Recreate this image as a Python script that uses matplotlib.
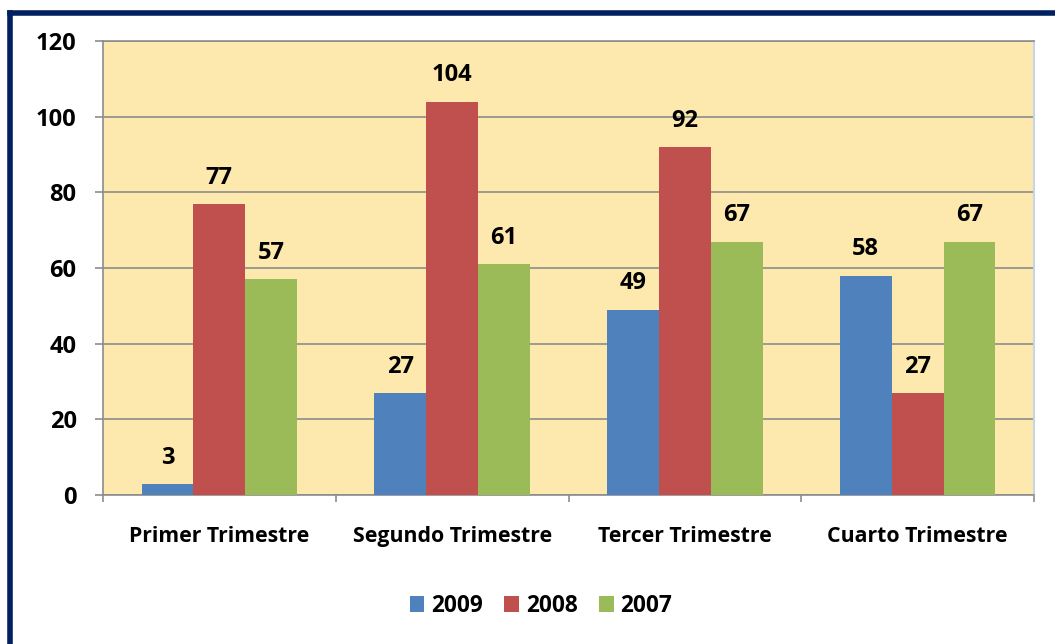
import numpy as np
import matplotlib.pyplot as plt
from matplotlib.lines import Line2D

plt.rcParams['font.family'] = ['Open Sans', 'DejaVu Sans']
plt.rcParams['font.weight'] = 'bold'

categories = ['Primer Trimestre', 'Segundo Trimestre', 'Tercer Trimestre', 'Cuarto Trimestre']
series_names = ['2009', '2008', '2007']
values_2009 = [3, 27, 49, 58]
values_2008 = [77, 104, 92, 27]
values_2007 = [57, 61, 67, 67]
colors = ['#4F81BD', '#C0504D', '#9BBB59']

NUM_FS = 17
CAT_FS = 15.3
LEG_FS = 16.3


def main():
    fig = plt.figure(figsize=(10.55, 6.44), dpi=100)
    ax = fig.add_axes([103 / 1055, 1 - 495 / 644, 931 / 1055, 454 / 644])
    ax.set_facecolor('#FDE9AE')

    x = np.arange(len(categories))
    w = 0.223
    series = [values_2009, values_2008, values_2007]
    for i, vals in enumerate(series):
        pos = x + (i - 1) * w
        bars = ax.bar(pos, vals, w, color=colors[i], label=series_names[i], zorder=3)
        for b, v in zip(bars, vals):
            ax.annotate(str(v), (b.get_x() + b.get_width() / 2, v),
                        xytext=(0, 14.5), textcoords='offset points',
                        ha='center', va='baseline', fontsize=NUM_FS, fontweight='bold')

    ax.set_xlim(-0.5, len(categories) - 0.5)
    ax.set_ylim(0, 120)
    ax.set_yticks(np.arange(0, 121, 20))
    ax.yaxis.grid(True, color='#8C8C8C', linewidth=1.2, zorder=0)
    ax.set_axisbelow(True)

    ax.set_xticks(x)
    ax.set_xticklabels(categories, fontsize=CAT_FS, fontweight='bold')
    ax.set_xticks(np.arange(-0.5, len(categories)), minor=True)
    ax.tick_params(axis='x', which='major', length=0, pad=22)
    ax.tick_params(axis='x', which='minor', length=5, color='#8C8C8C', width=1.2)
    ax.tick_params(axis='y', length=6, color='#8C8C8C', width=1.2, pad=13, labelsize=NUM_FS)
    for t in ax.get_yticklabels():
        t.set_fontweight('bold')

    for s in ['left', 'bottom', 'top']:
        ax.spines[s].set_color('#8C8C8C')
        ax.spines[s].set_linewidth(1.2)
    ax.spines['right'].set_color('#C5D5E8')
    ax.spines['right'].set_linewidth(1.5)

    ax.legend(loc='center', bbox_to_anchor=(541 / 1055, 1 - 606 / 644),
              bbox_transform=fig.transFigure, ncol=3, frameon=False,
              handlelength=0.65, handleheight=0.65,
              handletextpad=0.3, columnspacing=0.95,
              prop={'weight': 'bold', 'size': LEG_FS})

    # dark frame lines of the slide
    fig.add_artist(Line2D([9.5 / 1055, 9.5 / 1055], [0, 1 - 13 / 644],
                          color='#002060', linewidth=4, transform=fig.transFigure,
                          solid_capstyle='projecting'))
    fig.add_artist(Line2D([9.5 / 1055, 1], [1 - 13 / 644, 1 - 13 / 644],
                          color='#002060', linewidth=4, transform=fig.transFigure,
                          solid_capstyle='projecting'))

    fig.savefig('out.png', dpi=100)


if __name__ == '__main__':
    main()
